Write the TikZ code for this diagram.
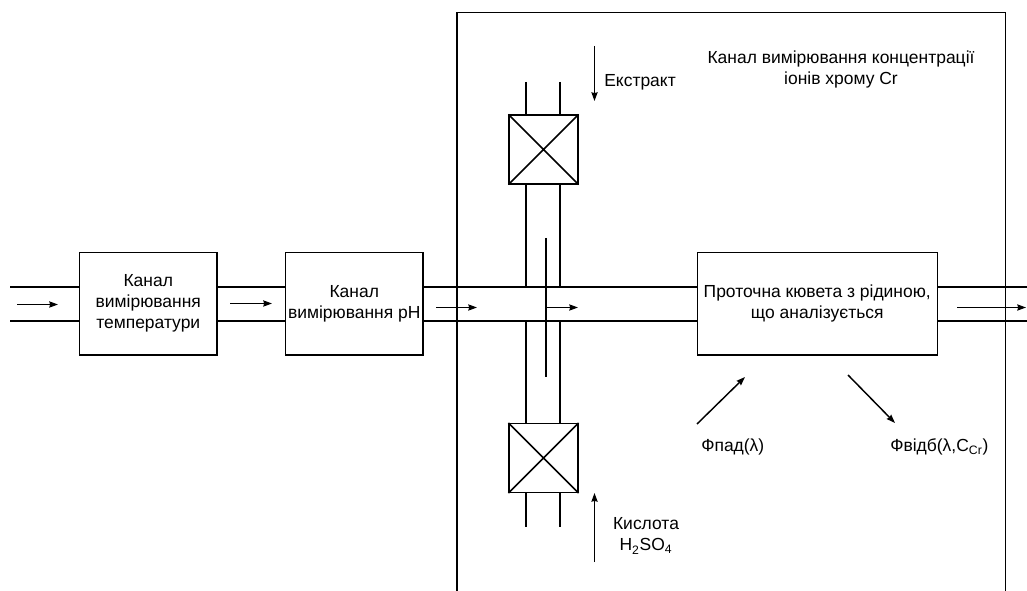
\documentclass[tikz,border=0pt]{standalone}
\usepackage{fontspec}
\setmainfont{Liberation Sans}
\usetikzlibrary{arrows.meta,positioning,shapes.misc,calc}

\begin{document}
\begin{tikzpicture}[
  x=0.75pt, y=-0.75pt,
  >={Stealth[length=6.5pt,width=4.6pt,inset=0.6pt]},
  block/.style={draw, line width=1.1pt, minimum height=77pt, align=center, font=\fontsize{13.1}{15.75}\selectfont, inner sep=0pt, execute at begin node={\rule{0pt}{12pt}}},
  valve/.style={draw, cross out, line width=1.1pt, minimum size=51.5pt, inner sep=0pt},
  valvebox/.style={draw, line width=1.1pt, minimum size=51.5pt, inner sep=0pt},
  pipe/.style={line width=1.1pt},
  flow/.style={->, line width=1.1pt},
  lbl/.style={align=center, font=\fontsize{13.1}{15.75}\selectfont, inner sep=0pt}
]
\useasboundingbox (0,0) rectangle (1027,591);

% blocks
\node[block, minimum width=103pt] (temp) at (148.25,303.75) {Канал\\вимірювання\\температури};
\node[block, minimum width=103pt] (ph) at (354.25,303.75) {Канал\\вимірювання pH};
\node[block, minimum width=180pt] (cell) at (817.25,303.75) {Проточна кювета з рідиною,\\що аналізується};

% valves
\node[valvebox] (extr) at (543.5,149.5) {};
\node[valve] at (extr) {};
\node[valvebox] (acid) at (543.5,458) {};
\node[valve] at (acid) {};

% measuring channel frame
\coordinate (fr_bl) at (457,591);
\coordinate (fr_tl) at (457,12.7);
\coordinate (fr_tr) at (1005.7,12.7);
\coordinate (fr_br) at (1005.7,591);
\draw[pipe] (fr_bl) -- (fr_tl) -- (fr_tr) -- (fr_br);

% horizontal pipe
\coordinate (in_t) at (10,287);
\coordinate (in_b) at (10,321);
\coordinate (out_t) at (1027,287);
\coordinate (out_b) at (1027,321);
\draw[pipe] (in_t) -- (in_t -| temp.west);
\draw[pipe] (in_b) -- (in_b -| temp.west);
\draw[pipe] (in_t -| temp.east) -- (in_t -| ph.west);
\draw[pipe] (in_b -| temp.east) -- (in_b -| ph.west);
\draw[pipe] (in_t -| ph.east) -- (in_t -| cell.west);
\draw[pipe] (in_b -| ph.east) -- (in_b -| cell.west);
\draw[pipe] (in_t -| cell.east) -- (out_t);
\draw[pipe] (in_b -| cell.east) -- (out_b);

% vertical pipes
\coordinate (vl) at (526,82);
\coordinate (vr) at (560,82);
\coordinate (wl) at (526,527);
\coordinate (wr) at (560,527);
\draw[pipe] (vl) -- (vl |- extr.north);
\draw[pipe] (vr) -- (vr |- extr.north);
\draw[pipe] (vl |- extr.south) -- (vl |- in_t);
\draw[pipe] (vr |- extr.south) -- (vr |- in_t);
\draw[pipe] (vl |- in_b) -- (vl |- acid.north);
\draw[pipe] (vr |- in_b) -- (vr |- acid.north);
\draw[pipe] (wl |- acid.south) -- (wl);
\draw[pipe] (wr |- acid.south) -- (wr);

% mixing baffle
\coordinate (mix_t) at (546,238);
\coordinate (mix_b) at (546,377);
\coordinate (mix_a) at (546,307.5);
\coordinate (mix_e) at (578,307.5);
\draw[pipe] (mix_t) -- (mix_b);
\draw[flow] (mix_a) -- (mix_e);

% flow arrows
\coordinate (f1a) at (17,304.5);
\coordinate (f1b) at (58,304.5);
\coordinate (f2a) at (230,303.5);
\coordinate (f2b) at (272,303.5);
\coordinate (f3a) at (436,307.5);
\coordinate (f3b) at (477,307.5);
\coordinate (f4a) at (957,307.5);
\coordinate (f4b) at (1026,307.5);
\draw[flow] (f1a) -- (f1b);
\draw[flow] (f2a) -- (f2b);
\draw[flow] (f3a) -- (f3b);
\draw[flow] (f4a) -- (f4b);

\coordinate (ea) at (594.5,46);
\coordinate (eb) at (594.5,101);
\coordinate (ka) at (594.5,562);
\coordinate (kb) at (594.5,493);
\draw[flow] (ea) -- (eb);
\draw[flow] (ka) -- (kb);

% light beams
\coordinate (pa) at (697,424);
\coordinate (pb) at (745,377);
\coordinate (va) at (848,375);
\coordinate (vb) at (895,423);
\draw[flow] (pa) -- (pb);
\draw[flow] (va) -- (vb);

% labels
\node[lbl] (title) at (841,69) {Канал вимірювання концентрації\\іонів хрому Cr};
\node[lbl, anchor=west] (l_extr) at (604,82) {Екстракт};
\node[lbl] (l_acid) at (646,536) {Кислота\\H\textsubscript{2}SO\textsubscript{4}};
\node[lbl, anchor=west] (l_pad) at (701,447) {Фпад(λ)};
\node[lbl, anchor=west] (l_vid) at (890,447) {Фвідб(λ,C\textsubscript{Cr})};

\end{tikzpicture}
\end{document}
